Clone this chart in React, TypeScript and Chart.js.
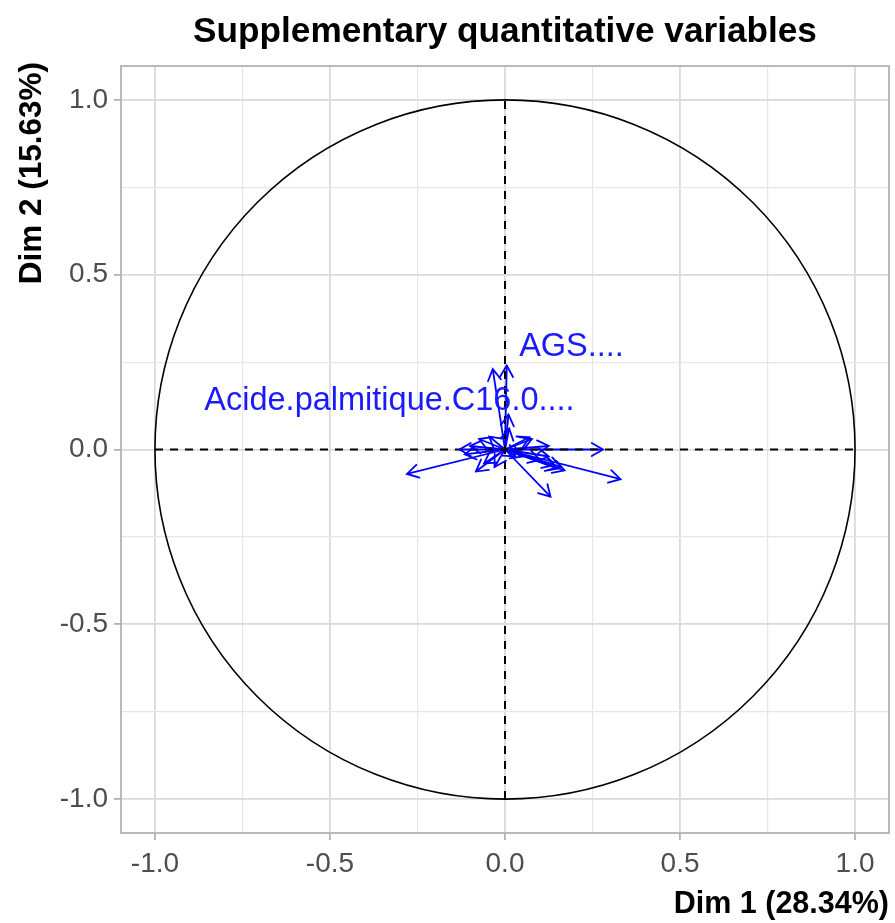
import React, { useEffect, useRef } from "react";
import { Chart, registerables } from "chart.js";
Chart.register(...registerables);

// Arrow end points (Dim 1, Dim 2)
const arrowX = [0.005, -0.035, 0.01, -0.28, 0.13, 0.33, 0.28, 0.16, 0.15, 0.14, 0.125, 0.10, 0.17, -0.13, -0.115, -0.10, -0.083, -0.06, 0.077, 0.125, 0.07, -0.074, -0.045, 0.03, 0.05, -0.03, 0.012];
const arrowY = [0.24, 0.23, 0.1, -0.07, -0.135, -0.085, 0.0, -0.05, -0.055, -0.045, -0.02, -0.03, -0.06, 0.0, -0.014, 0.01, -0.063, -0.04, 0.03, 0.01, 0.035, 0.03, 0.037, -0.02, -0.02, -0.05, 0.06];

const labelNames = ["AGS....", "Acide.palmitique.C16.0...."];
const labelX = [0.19, -0.33];
const labelY = [0.293, 0.138];

const tickValues = [-1, -0.75, -0.5, -0.25, 0, 0.25, 0.5, 0.75, 1];
const axisMin = -1.097;
const axisMax = 1.097;

const chartTitle = "Supplementary quantitative variables";
const xTitle = "Dim 1 (28.34%)";
const yTitle = "Dim 2 (15.63%)";

const FONT = "'Liberation Sans', Arial, sans-serif";
const isMajor = (v: number) => Math.abs(v * 2 - Math.round(v * 2)) < 1e-9;

const decorPlugin = {
  id: "decor",
  beforeDatasetsDraw(chart: any) {
    const { ctx, scales } = chart;
    const xs = scales.x, ys = scales.y;
    const cx = xs.getPixelForValue(0), cy = ys.getPixelForValue(0);
    const rx = xs.getPixelForValue(1) - cx;
    const ry = cy - ys.getPixelForValue(1);
    ctx.save();
    ctx.strokeStyle = "#000";
    ctx.lineWidth = 1.6;
    ctx.beginPath();
    ctx.ellipse(cx, cy, rx, ry, 0, 0, Math.PI * 2);
    ctx.stroke();
    ctx.restore();
  },
  afterDatasetsDraw(chart: any) {
    const { ctx, scales } = chart;
    ctx.save();
    chart.data.datasets.forEach((ds: any, i: number) => {
      if (!ds.isArrow) return;
      const meta = chart.getDatasetMeta(i);
      const p0 = meta.data[0], p1 = meta.data[1];
      const ang = Math.atan2(p1.y - p0.y, p1.x - p0.x);
      const L = 13, a = Math.PI / 6;
      ctx.strokeStyle = "#0000FF";
      ctx.lineWidth = 1.8;
      ctx.lineCap = "round";
      ctx.beginPath();
      ctx.moveTo(p1.x - L * Math.cos(ang - a), p1.y - L * Math.sin(ang - a));
      ctx.lineTo(p1.x, p1.y);
      ctx.lineTo(p1.x - L * Math.cos(ang + a), p1.y - L * Math.sin(ang + a));
      ctx.stroke();
    });
    ctx.fillStyle = "#1A1AFF";
    ctx.font = `32.5px ${FONT}`;
    ctx.textAlign = "center";
    ctx.textBaseline = "middle";
    labelNames.forEach((t, i) => {
      ctx.fillText(t, scales.x.getPixelForValue(labelX[i]), scales.y.getPixelForValue(labelY[i]));
    });
    ctx.restore();
  },
  afterDraw(chart: any) {
    const { ctx, chartArea } = chart;
    ctx.save();
    ctx.strokeStyle = "#B3B3B3";
    ctx.lineWidth = 1.8;
    ctx.strokeRect(chartArea.left, chartArea.top, chartArea.right - chartArea.left, chartArea.bottom - chartArea.top);
    ctx.fillStyle = "#000";
    ctx.font = `bold 35.2px ${FONT}`;
    ctx.textAlign = "center";
    ctx.textBaseline = "alphabetic";
    ctx.fillText(chartTitle, (chartArea.left + chartArea.right) / 2, 42);
    ctx.font = `bold 30.5px ${FONT}`;
    ctx.textAlign = "right";
    ctx.fillText(xTitle, chartArea.right, 913);
    ctx.font = `bold 31.5px ${FONT}`;
    ctx.translate(41, chartArea.top - 4);
    ctx.rotate(-Math.PI / 2);
    ctx.fillText(yTitle, 0, 0);
    ctx.restore();
  },
};

export default function App() {
  const ref = useRef<HTMLCanvasElement>(null);
  useEffect(() => {
    if (!ref.current) return;
    const datasets: any[] = [
      {
        data: [{ x: -1, y: 0 }, { x: 1, y: 0 }],
        showLine: true, borderColor: "#000", borderWidth: 2, borderDash: [8, 7], pointRadius: 0,
      },
      {
        data: [{ x: 0, y: -1 }, { x: 0, y: 1 }],
        showLine: true, borderColor: "#000", borderWidth: 2, borderDash: [8, 7], pointRadius: 0,
      },
    ];
    arrowX.forEach((ax, i) => {
      datasets.push({
        isArrow: true,
        data: [{ x: 0, y: 0 }, { x: ax, y: arrowY[i] }],
        showLine: true, borderColor: "#0000FF", borderWidth: 1.8, pointRadius: 0,
      });
    });
    const gridCommon = {
      color: (c: any) => (c.tick && isMajor(c.tick.value) ? "#DADADA" : "#E6E6E6"),
      lineWidth: (c: any) => (c.tick && isMajor(c.tick.value) ? 1.8 : 1.2),
      tickColor: (c: any) => (c.tick && isMajor(c.tick.value) ? "#B3B3B3" : "rgba(0,0,0,0)"),
      tickLength: 7,
      tickWidth: 1.8,
    };
    const tickCommon = {
      color: "#4D4D4D",
      font: { family: FONT, size: 28 },
      autoSkip: false,
      maxRotation: 0,
      callback: (v: any) => (isMajor(Number(v)) ? Number(v).toFixed(1) : ""),
    };
    const chart = new Chart(ref.current, {
      type: "scatter",
      data: { datasets },
      plugins: [decorPlugin],
      options: {
        animation: false,
        responsive: false,
        layout: { padding: { top: 66, right: 6, left: 0, bottom: 0 } },
        plugins: { legend: { display: false }, tooltip: { enabled: false }, title: { display: false } },
        scales: {
          x: {
            type: "linear", min: axisMin, max: axisMax,
            afterBuildTicks: (s: any) => { s.ticks = tickValues.map((v) => ({ value: v })); },
            afterFit: (s: any) => { s.height = 90; },
            grid: gridCommon as any,
            border: { display: false },
            ticks: { ...tickCommon, padding: 7 } as any,
          },
          y: {
            type: "linear", min: axisMin, max: axisMax,
            afterBuildTicks: (s: any) => { s.ticks = tickValues.map((v) => ({ value: v })); },
            afterFit: (s: any) => { s.width = 121; },
            grid: gridCommon as any,
            border: { display: false },
            ticks: { ...tickCommon, padding: 6 } as any,
          },
        },
      } as any,
    });
    return () => chart.destroy();
  }, []);
  return (
    <div style={{ position: "absolute", left: 0, top: 0, width: 895, height: 923, background: "#fff" }}>
      <canvas ref={ref} width={895} height={923} style={{ display: "block" }} />
    </div>
  );
}
